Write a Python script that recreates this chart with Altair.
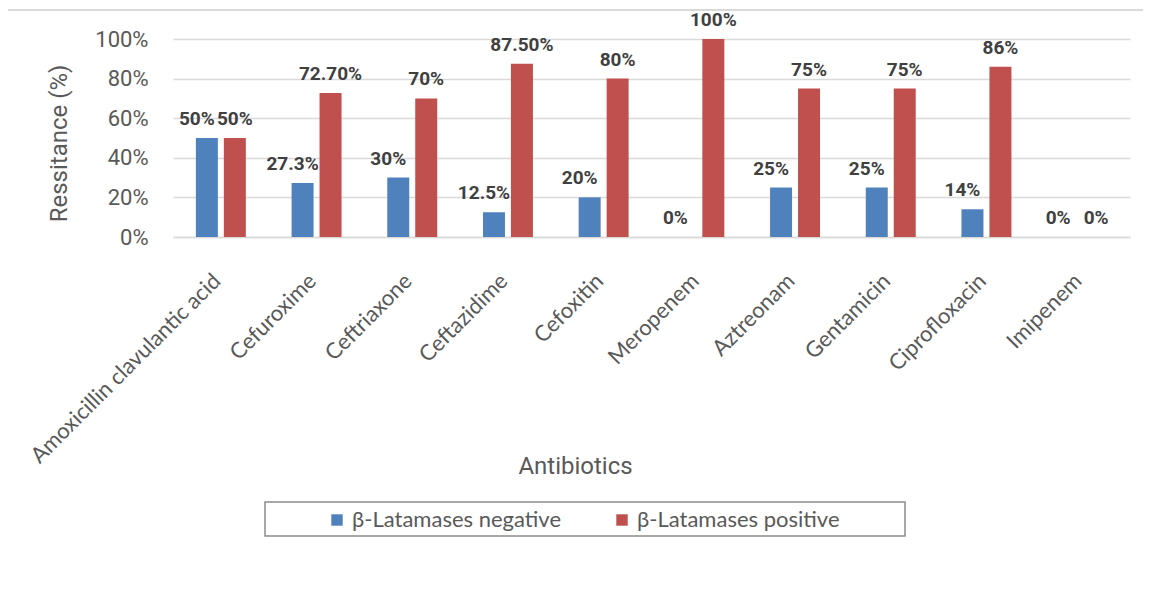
import altair as alt
import pandas as pd

antibiotics = ["Amoxicillin clavulantic acid", "Cefuroxime", "Ceftriaxone", "Ceftazidime",
               "Cefoxitin", "Meropenem", "Aztreonam", "Gentamicin", "Ciprofloxacin", "Imipenem"]
series = ["β-Latamases negative", "β-Latamases positive"]
neg_values = [50, 27.3, 30, 12.5, 20, 0, 25, 25, 14, 0]
pos_values = [50, 72.7, 70, 87.5, 80, 100, 75, 75, 86, 0]
neg_labels = ["50%", "27.3%", "30%", "12.5%", "20%", "0%", "25%", "25%", "14%", "0%"]
pos_labels = ["50%", "72.70%", "70%", "87.50%", "80%", "100%", "75%", "75%", "86%", "0%"]
colors = ["#4F81BD", "#C0504D"]
y_ticks = [0, 20, 40, 60, 80, 100]

rows = []
for a, v, l in zip(antibiotics, neg_values, neg_labels):
    rows.append({"Antibiotic": a, "Series": series[0], "Value": v, "Label": l})
for a, v, l in zip(antibiotics, pos_values, pos_labels):
    rows.append({"Antibiotic": a, "Series": series[1], "Value": v, "Label": l})
df = pd.DataFrame(rows)

W, H = 957, 198

x_enc = alt.X("Antibiotic:N", sort=antibiotics,
              scale=alt.Scale(paddingInner=0.478, paddingOuter=0.239),
              axis=alt.Axis(title="Antibiotics", labelAngle=-45, labelAlign="right",
                            labelBaseline="top", labelPadding=33, labelOffset=-11,
                            labelFont="Lato", labelFontSize=22, labelColor="#595959",
                            labelLimit=400, ticks=False, labelOverlap=False,
                            domainColor="#d9d9d9", domainWidth=1.5,
                            titleFont="Roboto", titleFontSize=24, titleFontWeight="normal",
                            titleColor="#595959", titleX=402, titleY=229,
                            titleAlign="center", titleBaseline="middle"))
xoff = alt.XOffset("Series:N", sort=series,
                   scale=alt.Scale(paddingInner=0.214, paddingOuter=0))
y_enc = alt.Y("Value:Q", scale=alt.Scale(domain=[0, 100]),
              axis=alt.Axis(title="Ressitance (%)", values=y_ticks, tickCount=6,
                            labelExpr="datum.value + '%'", labelOverlap=False,
                            labelFont="Roboto", labelFontSize=22, labelColor="#595959",
                            labelPadding=25, ticks=False, domain=False,
                            gridColor="#d9d9d9", gridWidth=1.5,
                            titleFont="Roboto", titleFontSize=24, titleFontWeight="normal",
                            titleColor="#595959", titleX=-114, titleY=104,
                            titleAngle=-90, titleAlign="center", titleBaseline="middle"))

bars = alt.Chart(df).mark_bar().encode(
    x=x_enc,
    xOffset=xoff,
    y=y_enc,
    color=alt.Color("Series:N", sort=series,
                    scale=alt.Scale(domain=series, range=colors),
                    legend=alt.Legend(title=None, orient="none", legendX=153, legendY=470,
                                      direction="horizontal", symbolType="square",
                                      symbolSize=130, symbolStrokeWidth=0,
                                      labelFont="Lato", labelFontSize=22,
                                      labelColor="#595959", labelOffset=4,
                                      columnPadding=49, padding=0, labelLimit=400)),
)

neg_text = alt.Chart(df[df["Series"] == series[0]]).mark_text(
    font="Roboto", fontSize=19, fontWeight="bold", color="#404040",
    baseline="alphabetic", dy=-13, dx=-10
).encode(
    x=x_enc,
    xOffset=xoff,
    y=y_enc,
    text="Label:N",
)
pos_text = alt.Chart(df[df["Series"] == series[1]]).mark_text(
    font="Roboto", fontSize=19, fontWeight="bold", color="#404040",
    baseline="alphabetic", dy=-13
).encode(
    x=x_enc,
    xOffset=xoff,
    y=y_enc,
    text="Label:N",
)

one = alt.Data(values=[{"k": 1}])
frame = alt.Chart(one).mark_rect(fillOpacity=0, stroke="#d9d9d9", strokeWidth=2).encode(
    x=alt.value(-166), x2=alt.value(1100), y=alt.value(-29), y2=alt.value(700)
)
legend_box = alt.Chart(one).mark_rect(fillOpacity=0, stroke="#8c8c8c", strokeWidth=1.5).encode(
    x=alt.value(92), x2=alt.value(732), y=alt.value(463), y2=alt.value(497)
)

chart = alt.layer(frame, legend_box, bars, neg_text, pos_text).properties(
    width=W, height=H,
    autosize=alt.AutoSizeParams(type="none"),
    padding={"left": 165, "top": 31, "right": 13, "bottom": 370},
).configure(background="white").configure_view(strokeWidth=0)

chart.save("out.html", embed_options={"renderer": "svg", "actions": False})
